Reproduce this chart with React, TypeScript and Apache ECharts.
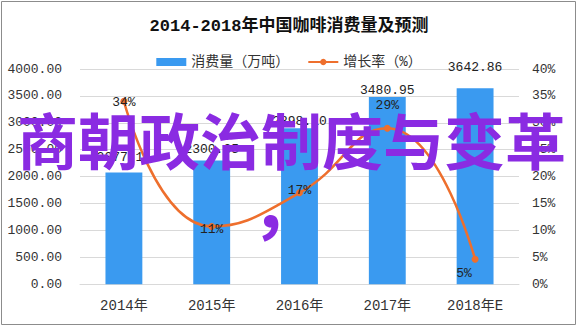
import React, { useEffect, useRef } from 'react';
import * as echarts from 'echarts';

const titleText = '2014-2018年中国咖啡消费量及预测';
const overlayText = '商朝政治制度与变革';
const commaText = '，';
const categories = ['2014年', '2015年', '2016年', '2017年', '2018年E'];
const consumption = [2077.11, 2300.35, 2898.1, 3480.95, 3642.86];
const growthRate = [0.34, 0.1075, 0.17, 0.29, 0.0465];
const seriesNames = ['消费量（万吨）', '增长率（%）'];

const MONO = '"Liberation Mono", "Noto Sans CJK SC", monospace';
const CJK = '"Noto Sans CJK SC", sans-serif';

const barLabelDistance = [8, 4, 0, 0, 14];
const lineLabelCfg: any[] = [
  { position: 'inside', offset: [0, 1] },
  { position: 'inside', offset: [0, 3] },
  { position: 'inside', offset: [0, -2] },
  { position: 'top', distance: 13 },
  { position: 'inside', offset: [-11, 14] },
];

export default function App() {
  const ref = useRef<HTMLDivElement>(null);
  useEffect(() => {
    document.body.style.margin = '0';
    const chart = echarts.init(ref.current!, null, { renderer: 'svg' });
    chart.setOption({
      animation: false,
      backgroundColor: '#ffffff',
      title: {
        text: titleText,
        left: 'center',
        top: 13,
        textStyle: { fontFamily: MONO, fontSize: 17, fontWeight: 'bold', color: '#111' },
      },
      legend: {
        top: 50,
        left: 'center',
        itemGap: 18,
        itemWidth: 30,
        itemHeight: 8,
        textStyle: { fontFamily: MONO, fontSize: 14, color: '#333' },
        data: [
          { name: seriesNames[0], icon: 'rect' },
          { name: seriesNames[1] },
        ],
      },
      grid: { left: 80, right: 59, top: 69, bottom: 43.7, containLabel: false },
      xAxis: {
        type: 'category',
        data: categories,
        axisLine: { show: true, lineStyle: { color: '#d9d9d9' } },
        axisTick: { show: false },
        axisLabel: { fontFamily: MONO, fontSize: 14, color: '#333', margin: 15 },
      },
      yAxis: [
        {
          type: 'value',
          min: 0,
          max: 4000,
          interval: 500,
          axisLine: { show: false },
          axisTick: { show: false },
          splitLine: { lineStyle: { color: '#d9d9d9' } },
          axisLabel: {
            fontFamily: MONO,
            fontSize: 13,
            color: '#333',
            margin: 18,
            formatter: (v: number) => v.toFixed(2),
          },
        },
        {
          type: 'value',
          min: 0,
          max: 0.4,
          interval: 0.05,
          axisLine: { show: false },
          axisTick: { show: false },
          splitLine: { show: false },
          axisLabel: {
            fontFamily: MONO,
            fontSize: 13,
            color: '#333',
            margin: 13,
            formatter: (v: number) => Math.round(v * 100) + '%',
          },
        },
      ],
      series: [
        {
          name: seriesNames[0],
          type: 'bar',
          barWidth: '42%',
          itemStyle: { color: '#3a9af0' },
          data: consumption.map((v, i) => ({
            value: v,
            label: { show: true, position: 'top', distance: barLabelDistance[i] },
          })),
          label: {
            fontFamily: MONO,
            fontSize: 13,
            color: '#222',
            formatter: (p: any) => Number(p.value).toFixed(2),
          },
          z: 2,
        },
        {
          name: seriesNames[1],
          type: 'line',
          yAxisIndex: 1,
          smooth: true,
          symbol: 'circle',
          symbolSize: 7,
          lineStyle: { color: '#ee6f2d', width: 2.5 },
          itemStyle: { color: '#ee6f2d' },
          data: growthRate.map((v, i) => ({
            value: v,
            label: { show: true, ...lineLabelCfg[i] },
          })),
          label: {
            fontFamily: MONO,
            fontSize: 13,
            color: '#222',
            formatter: (p: any) => Math.round(Number(p.value) * 100) + '%',
          },
          z: 3,
        },
      ],
      graphic: [
        {
          type: 'rect',
          silent: true,
          z: -1,
          shape: { x: 1.5, y: 1.5, width: 574, height: 323 },
          style: { fill: 'none', stroke: '#8c8c8c', lineWidth: 1 },
        },
        {
          type: 'text',
          silent: true,
          z: 100,
          x: 291.5,
          y: 138,
          style: {
            text: overlayText,
            fontFamily: CJK,
            fontSize: 61,
            fontWeight: 'bold',
            fill: '#8a2be2',
            align: 'center',
            verticalAlign: 'middle',
          },
        },
        {
          type: 'text',
          silent: true,
          z: 100,
          x: 251,
          y: 166,
          style: {
            text: commaText,
            fontFamily: CJK,
            fontSize: 70,
            fontWeight: 'bold',
            fill: '#8a2be2',
            align: 'left',
            verticalAlign: 'top',
          },
        },
      ],
    });
    return () => chart.dispose();
  }, []);
  return <div ref={ref} style={{ width: 578, height: 328 }} />;
}
